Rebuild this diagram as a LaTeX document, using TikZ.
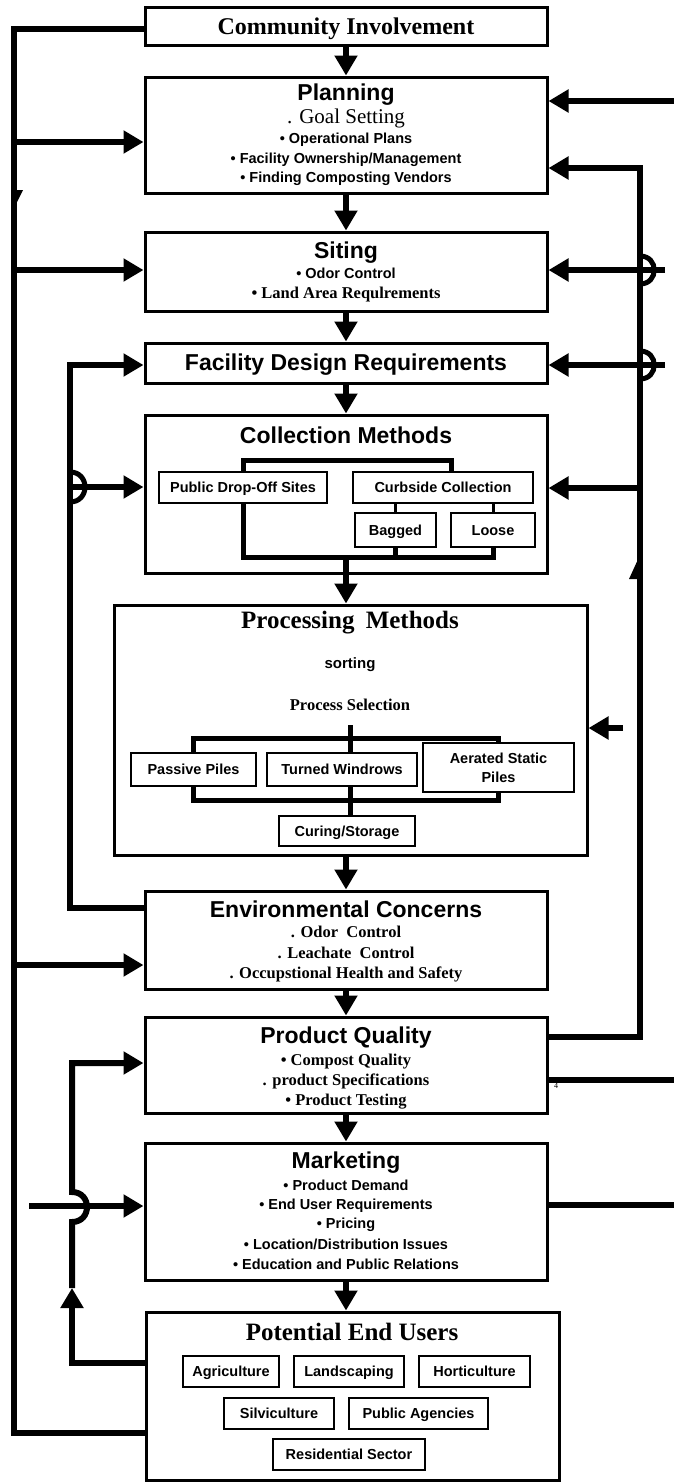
\documentclass[tikz,border=0pt]{standalone}
\usepackage{fontspec}
\setmainfont{Liberation Serif}
\setsansfont{Liberation Sans}
\usetikzlibrary{arrows.meta}
\begin{document}
\begin{tikzpicture}[x=1pt,y=-1pt,
  box/.style={draw, line width=3pt, inner sep=0pt, fill=white},
  conn/.style={line width=6pt},
  arr/.style={line width=6pt, -{Triangle[length=20pt,width=22pt]}},
  brk/.style={line width=5pt},
  thinln/.style={line width=3pt},
  hop/.style={line width=5pt},
  sboxb/.style={draw, line width=2.5pt, fill=white, inner sep=0pt, align=center, font=\sffamily\bfseries\fontsize{14.5}{19}\selectfont},
  sbox/.style={sboxb, text height=10.4pt, text depth=0pt},
  ttl/.style={anchor=base, inner sep=0pt, font=\sffamily\bfseries\fontsize{23}{26}\selectfont},
  sttl/.style={anchor=base, inner sep=0pt, font=\rmfamily\bfseries\fontsize{25}{28}\selectfont},
  ssm/.style={anchor=base, inner sep=0pt, font=\sffamily\bfseries\fontsize{14.5}{17}\selectfont},
  rsm/.style={anchor=base, inner sep=0pt, font=\rmfamily\bfseries\fontsize{16.5}{19}\selectfont},
]
\useasboundingbox (0,0) rectangle (674,1484);

% main boxes
\node[box, minimum width=402pt, minimum height=38pt] (ci) at (346,26) {};
\node[box, minimum width=402pt, minimum height=116pt] (plan) at (346,135) {};
\node[box, minimum width=402pt, minimum height=79pt] (sit) at (346,271.5) {};
\node[box, minimum width=402pt, minimum height=40pt] (fdr) at (346,363) {};
\node[box, minimum width=402pt, minimum height=158pt] (cm) at (346,494) {};
\node[box, minimum width=473pt, minimum height=250pt] (pm) at (350.5,730) {};
\node[box, minimum width=402pt, minimum height=98pt] (ec) at (346,940) {};
\node[box, minimum width=402pt, minimum height=96pt] (pq) at (346,1065) {};
\node[box, minimum width=402pt, minimum height=137pt] (mkt) at (346,1211.5) {};
\node[box, minimum width=413pt, minimum height=168pt] (peu) at (352.5,1396) {};

% texts
\node[sttl, font=\rmfamily\bfseries\fontsize{24}{26}\selectfont] (ciT) at (346,34) {Community Involvement};

\node[ttl] (planT) at (346,100) {Planning};
\node[anchor=base, inner sep=0pt, font=\rmfamily\fontsize{21}{24}\selectfont] (planG) at (346,123) {. Goal Setting};
\node[ssm] (planA) at (346,143) {• Operational Plans};
\node[ssm] (planB) at (346,163) {• Facility Ownership/Management};
\node[ssm] (planC) at (346,182) {• Finding Composting Vendors};

\node[ttl] (sitT) at (346,258) {Siting};
\node[ssm] (sitA) at (346,278) {• Odor Control};
\node[rsm] (sitB) at (346,298) {• Land Area Requlrements};

\node[ttl] (fdrT) at (346,370) {Facility Design Requirements};

\node[ttl] (cmT) at (346,443) {Collection Methods};
\node[sbox, minimum width=168pt, minimum height=31pt] (pd) at (243,487.5) {Public Drop-Off Sites};
\node[sbox, minimum width=180pt, minimum height=31pt] (cc) at (443,487.5) {Curbside Collection};
\node[sbox, minimum width=81pt, minimum height=34pt] (bag) at (395.5,530) {Bagged};
\node[sbox, minimum width=84pt, minimum height=34pt] (loose) at (493,530) {Loose};

\node[sttl] (pmT) at (350,628) {Processing\hspace{5pt} Methods};
\node[anchor=base, inner sep=0pt, font=\sffamily\bfseries\fontsize{15}{17}\selectfont] (pmS) at (350,668) {sorting};
\node[rsm] (pmP) at (350,710) {Process Selection};
\node[sbox, minimum width=125pt, minimum height=33pt] (pp) at (193.5,769.5) {Passive Piles};
\node[sbox, minimum width=150pt, minimum height=33pt] (tw) at (342,769.5) {Turned Windrows};
\node[sboxb, minimum width=151pt, minimum height=49pt] (asp) at (498.5,767.5) {Aerated Static\\Piles};
\node[sbox, minimum width=136pt, minimum height=30pt] (cur) at (347,831) {Curing/Storage};

\node[ttl] (ecT) at (346,917) {Environmental Concerns};
\node[rsm] (ecA) at (346,937) {. Odor\ \ Control};
\node[rsm] (ecB) at (346,958) {. Leachate\ \ Control};
\node[rsm] (ecC) at (346,978) {. Occupstional Health and Safety};

\node[ttl] (pqT) at (346,1043) {Product Quality};
\node[rsm] (pqA) at (346,1065) {• Compost Quality};
\node[rsm] (pqB) at (346,1085) {. product Specifications};
\node[rsm] (pqC) at (346,1105) {• Product Testing};

\node[ttl] (mT) at (346,1168) {Marketing};
\node[ssm] (mA) at (346,1190) {• Product Demand};
\node[ssm] (mB) at (346,1209) {• End User Requirements};
\node[ssm] (mC) at (346,1228) {• Pricing};
\node[ssm] (mD) at (346,1249) {• Location/Distribution Issues};
\node[ssm] (mE) at (346,1269) {• Education and Public Relations};

\node[sttl] (peuT) at (352,1340) {Potential End Users};
\node[sbox, minimum width=96pt, minimum height=31pt] (ag) at (231,1371.5) {Agriculture};
\node[sbox, minimum width=110pt, minimum height=31pt] (la) at (349,1371.5) {Landscaping};
\node[sbox, minimum width=111pt, minimum height=31pt] (ho) at (474.5,1371.5) {Horticulture};
\node[sbox, minimum width=110pt, minimum height=31pt] (si) at (279,1413.5) {Silviculture};
\node[sbox, minimum width=139pt, minimum height=31pt] (pa) at (418.5,1413.5) {Public Agencies};
\node[sbox, minimum width=152pt, minimum height=31pt] (rs) at (349,1454.5) {Residential Sector};

\node[inner sep=0pt, font=\rmfamily\fontsize{8}{8}\selectfont] (four) at (556,1086) {4};

% main chain
\draw[arr] (ci.south) -- (plan.north);
\draw[arr] (plan.south) -- (sit.north);
\draw[arr] (sit.south) -- (fdr.north);
\draw[arr] (fdr.south) -- (cm.north);
\draw[arr] (pm.south -| ec.north) -- (ec.north);
\draw[arr] (ec.south) -- (pq.north);
\draw[arr] (pq.south) -- (mkt.north);
\draw[arr] (mkt.south) -- (mkt.south |- peu.north);

% collection internals
\coordinate (cmtl) at (243,460);
\coordinate (cmtr) at (451,460);
\coordinate (cmj) at (346,557);
\draw[brk] (pd.north) -- (pd.north |- cmtl) -- (cmtr) -- (cmtr |- cc.north);
\draw[thinln] (bag.north) -- (bag.north |- cc.south);
\draw[thinln] (loose.north) -- (loose.north |- cc.south);
\draw[brk] (pd.south) -- (pd.south |- cmj) -- (loose.south |- cmj) -- (loose.south);
\draw[brk] (bag.south) -- (bag.south |- cmj);
\draw[arr] (cmj) -- (cmj |- pm.north);

% processing internals
\coordinate (pmv) at (350,725);
\coordinate (pmb1) at (350,738);
\coordinate (pmb2) at (350,800);
\draw[brk] (pp.north) -- (pp.north |- pmb1) -- (asp.north |- pmb1) -- (asp.north);
\draw[brk] (pp.south) -- (pp.south |- pmb2) -- (asp.south |- pmb2) -- (asp.south);
\draw[brk] (pmv) -- (pmv |- tw.north);
\draw[brk] (pmv |- tw.south) -- (pmv |- cur.north);

% left line 1
\coordinate (l1t) at (14,29);
\coordinate (l1b) at (14,1433);
\draw[conn] (l1t -| ci.west) -- (l1t) -- (l1b) -- (l1b -| peu.west);
\coordinate (l1p) at (14,142);
\coordinate (l1s) at (14,270);
\coordinate (l1e) at (14,965);
\draw[arr] (l1p) -- (l1p -| plan.west);
\draw[arr] (l1s) -- (l1s -| sit.west);
\draw[arr] (l1e) -- (l1e -| ec.west);
\fill (14,190) -- (23,190) -- (15,206) -- cycle;

% left line 2
\coordinate (l2b) at (70,908);
\coordinate (l2t) at (70,365);
\coordinate (l2c) at (70,487);
\draw[arr] (l2b -| ec.west) -- (l2b) -- (l2t) -- (l2t -| fdr.west);
\draw[arr] (l2c) -- (l2c -| cm.west);
\draw[hop] (70,472) .. controls (90,472) and (90,502) .. (70,502);

% left line 3
\coordinate (l3b) at (72,1363);
\coordinate (l3m) at (72,1288);
\coordinate (l3t) at (72,1063);
\draw[arr] (l3b -| peu.west) -- (l3b) -- (l3m);
\draw[arr] (l3m) -- (72,1222) .. controls (92,1222) and (92,1192) .. (72,1192) -- (l3t) -- (l3t -| pq.west);
\coordinate (mk) at (29,1206);
\draw[arr] (mk) -- (mk -| mkt.west);

% right side
\coordinate (r0) at (674,101);
\draw[arr] (r0) -- (r0 -| plan.east);
\coordinate (rb) at (640,1037);
\coordinate (rt) at (640,168);
\draw[arr] (rb -| pq.east) -- (rb) -- (rt) -- (rt -| plan.east);
\coordinate (rc) at (640,488);
\draw[arr] (rc) -- (rc -| cm.east);
\coordinate (rs) at (665,270);
\draw[arr] (rs) -- (rs -| sit.east);
\draw[hop] (640,256) .. controls (659,256) and (659,284) .. (640,284);
\coordinate (rf) at (665,365);
\draw[arr] (rf) -- (rf -| fdr.east);
\draw[hop] (640,351) .. controls (659,351) and (659,379) .. (640,379);
\coordinate (rp) at (623,728);
\draw[arr] (rp) -- (rp -| pm.east);
\fill (640,555) -- (640,579) -- (629,579) -- cycle;
\coordinate (rq) at (674,1080);
\draw[conn] (rq -| pq.east) -- (rq);
\coordinate (rm) at (674,1205);
\draw[conn] (rm -| mkt.east) -- (rm);
\end{tikzpicture}
\end{document}
